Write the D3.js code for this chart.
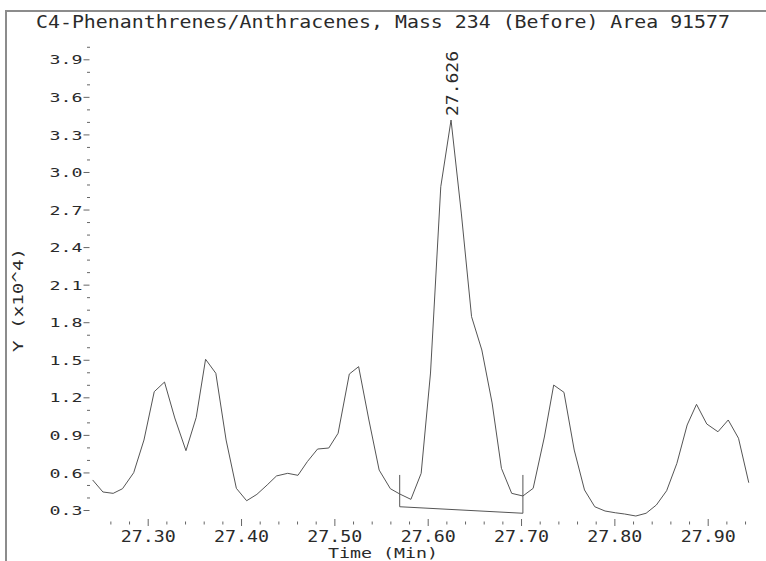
<!DOCTYPE html>
<html>
<head>
<meta charset="utf-8">
<script src="https://cdn.jsdelivr.net/npm/d3@7"></script>
<style>
  html, body { margin: 0; padding: 0; background: #fff; }
  svg { display: block; }
  text { font-family: "DejaVu Sans Mono", "Liberation Mono", monospace; fill: #2a2a2a; }
</style>
</head>
<body>
<svg id="chart" width="766" height="561"></svg>
<script>
// ---- data ----
const titleText = "C4-Phenanthrenes/Anthracenes, Mass 234 (Before) Area 91577";
const xAxisTitle = "Time (Min)";
const yAxisTitle = "Y (x10^4)";

const times = [
  27.241, 27.252, 27.263, 27.273, 27.285, 27.296, 27.307, 27.318, 27.329, 27.341,
  27.352, 27.362, 27.373, 27.384, 27.395, 27.406, 27.417, 27.428, 27.438, 27.450,
  27.461, 27.471, 27.482, 27.494, 27.504, 27.516, 27.526, 27.537, 27.548, 27.560,
  27.570, 27.582, 27.593, 27.603, 27.614, 27.625, 27.636, 27.647, 27.658, 27.669,
  27.679, 27.690, 27.702, 27.713, 27.725, 27.735, 27.746, 27.757, 27.768, 27.779,
  27.790, 27.801, 27.811, 27.823, 27.834, 27.845, 27.856, 27.867, 27.878, 27.888,
  27.899, 27.911, 27.922, 27.933, 27.944
];
const intensity = [
  0.540, 0.444, 0.433, 0.470, 0.598, 0.859, 1.245, 1.322, 1.035, 0.774,
  1.040, 1.504, 1.392, 0.859, 0.473, 0.374, 0.425, 0.500, 0.572, 0.593,
  0.577, 0.686, 0.787, 0.795, 0.913, 1.386, 1.445, 1.019, 0.619, 0.470,
  0.428, 0.385, 0.593, 1.394, 2.882, 3.415, 2.672, 1.844, 1.578, 1.155,
  0.633, 0.433, 0.412, 0.473, 0.883, 1.298, 1.240, 0.779, 0.460, 0.326,
  0.292, 0.278, 0.268, 0.252, 0.274, 0.340, 0.454, 0.673, 0.979, 1.144,
  0.987, 0.925, 1.019, 0.873, 0.518
];

const peakTime = 27.626;
const peakValue = 3.415;
const peakLabel = "27.626";

const baselineStart = [27.570, 0.326];
const baselineEnd = [27.702, 0.274];
const baselineMarkTop = 0.580;

const xMajorTicks = [27.30, 27.40, 27.50, 27.60, 27.70, 27.80, 27.90];
const xTickLabels = ["27.30", "27.40", "27.50", "27.60", "27.70", "27.80", "27.90"];
const xMinorTicks = [27.26, 27.28, 27.32, 27.34, 27.36, 27.38, 27.42, 27.44, 27.46, 27.48,
  27.52, 27.54, 27.56, 27.58, 27.62, 27.64, 27.66, 27.68, 27.72, 27.74, 27.76, 27.78,
  27.82, 27.84, 27.86, 27.88, 27.92, 27.94];
const yMajorTicks = [0.3, 0.6, 0.9, 1.2, 1.5, 1.8, 2.1, 2.4, 2.7, 3.0, 3.3, 3.6, 3.9];
const yTickLabels = ["0.3", "0.6", "0.9", "1.2", "1.5", "1.8", "2.1", "2.4", "2.7", "3.0", "3.3", "3.6", "3.9"];
const yMinorTicks = [0.4, 0.5, 0.7, 0.8, 1.0, 1.1, 1.3, 1.4, 1.6, 1.7, 1.9, 2.0, 2.2, 2.3,
  2.5, 2.6, 2.8, 2.9, 3.1, 3.2, 3.4, 3.5, 3.7, 3.8, 4.0];

// ---- drawing ----
const svg = d3.select("#chart");
const x = d3.scaleLinear().domain([27.30, 27.90]).range([147.7, 707.7]);
const y = d3.scaleLinear().domain([0.3, 3.9]).range([510, 59.3]);

// frame (top and left edges)
svg.append("path")
  .attr("d", "M6,561 V11 H766")
  .attr("fill", "none")
  .attr("stroke", "#8c8c8c")
  .attr("stroke-width", 2);

// title
svg.append("text")
  .attr("x", 36).attr("y", 27.5)
  .attr("font-size", 17.5)
  .attr("textLength", 694)
  .attr("lengthAdjust", "spacingAndGlyphs")
  .text(titleText);

// x axis major ticks
const xMajor = svg.append("g").attr("transform", "translate(0,519)")
  .call(d3.axisBottom(x).tickValues(xMajorTicks).tickSizeInner(7).tickSizeOuter(0)
    .tickFormat((d, i) => xTickLabels[i]));
xMajor.select(".domain").remove();
xMajor.selectAll("line").attr("stroke", "#666");
xMajor.selectAll("text")
  .attr("y", 23.3).attr("dy", null)
  .attr("font-size", 16)
  .attr("font-family", "DejaVu Sans Mono")
  .attr("fill", "#2a2a2a")
  .attr("textLength", 55)
  .attr("lengthAdjust", "spacingAndGlyphs");

// x axis minor ticks
const xMinor = svg.append("g").attr("transform", "translate(0,521.5)")
  .call(d3.axisBottom(x).tickValues(xMinorTicks).tickSizeInner(3).tickSizeOuter(0).tickFormat(""));
xMinor.select(".domain").remove();
xMinor.selectAll("line").attr("stroke", "#666");

// y axis major ticks
const yMajor = svg.append("g").attr("transform", "translate(89.5,0)")
  .call(d3.axisLeft(y).tickValues(yMajorTicks).tickSizeInner(6).tickSizeOuter(0)
    .tickFormat((d, i) => yTickLabels[i]));
yMajor.select(".domain").remove();
yMajor.selectAll("line").attr("stroke", "#666");
yMajor.selectAll("text")
  .attr("x", -7).attr("dy", "4.6")
  .attr("font-size", 12.5)
  .attr("font-family", "DejaVu Sans Mono")
  .attr("fill", "#2a2a2a")
  .attr("textLength", 33)
  .attr("lengthAdjust", "spacingAndGlyphs");

// y axis minor ticks
const yMinor = svg.append("g").attr("transform", "translate(90,0)")
  .call(d3.axisLeft(y).tickValues(yMinorTicks).tickSizeInner(3).tickSizeOuter(0).tickFormat(""));
yMinor.select(".domain").remove();
yMinor.selectAll("line").attr("stroke", "#666");

// axis titles
svg.append("text")
  .attr("x", 328).attr("y", 557.5)
  .attr("font-size", 14)
  .attr("textLength", 110)
  .attr("lengthAdjust", "spacingAndGlyphs")
  .text(xAxisTitle);

svg.append("text")
  .attr("transform", "translate(23.3,352) rotate(-90)")
  .attr("x", 0).attr("y", 0)
  .attr("font-size", 14)
  .attr("textLength", 104)
  .attr("lengthAdjust", "spacingAndGlyphs")
  .text(yAxisTitle);

// data line
const data = times.map((t, i) => [t, intensity[i]]);
svg.append("path")
  .datum(data)
  .attr("fill", "none")
  .attr("stroke", "#555")
  .attr("stroke-width", 1)
  .attr("d", d3.line().x(d => x(d[0])).y(d => y(d[1])));

// baseline integration marker
const bl = [
  [baselineStart[0], baselineMarkTop],
  baselineStart,
  baselineEnd,
  [baselineEnd[0], baselineMarkTop]
];
svg.append("path")
  .datum(bl)
  .attr("fill", "none")
  .attr("stroke", "#555")
  .attr("stroke-width", 1)
  .attr("d", d3.line().x(d => x(d[0])).y(d => y(d[1])));

// peak label
svg.append("text")
  .attr("transform", `translate(${x(peakTime) + 6},${y(peakValue) - 4}) rotate(-90)`)
  .attr("font-size", 16.5)
  .attr("textLength", 65)
  .attr("lengthAdjust", "spacingAndGlyphs")
  .text(peakLabel);
</script>
</body>
</html>
